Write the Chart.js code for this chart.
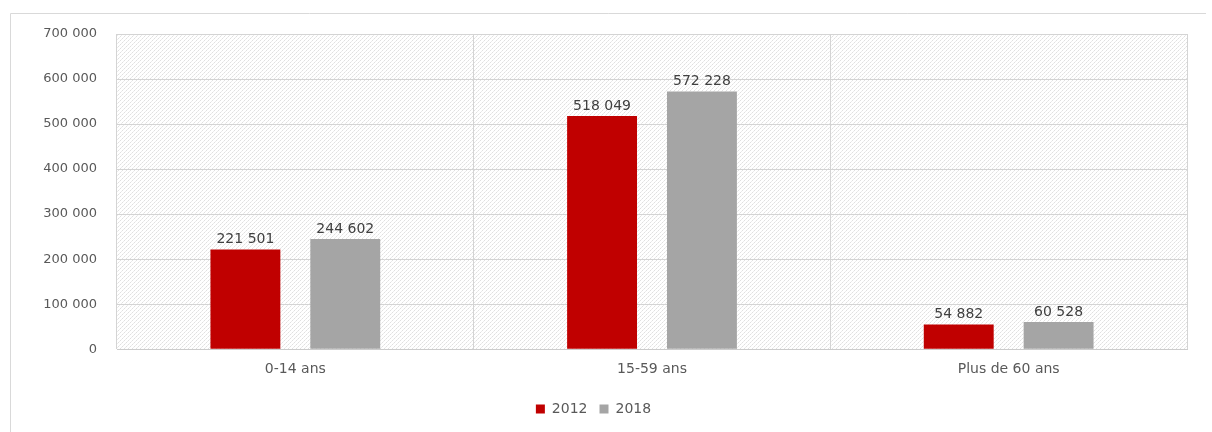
<!DOCTYPE html>
<html>
<head>
<meta charset="utf-8">
<script src="https://cdn.jsdelivr.net/npm/chart.js@4/dist/chart.umd.min.js"></script>
<style>
  html, body { margin: 0; padding: 0; background: #fff; }
  #wrap { position: absolute; left: 0; top: 0; width: 1212px; height: 432px; }
</style>
</head>
<body>
<div id="wrap"><canvas id="ageChart" width="1212" height="432"></canvas></div>
<script>
const categories = ["0-14 ans", "15-59 ans", "Plus de 60 ans"];
const values2012 = [221501, 518049, 54882];
const values2018 = [244602, 572228, 60528];
const seriesLabels = ["2012", "2018"];

// nombres avec espace comme séparateur de milliers
function fmt(n) {
  return String(Math.round(n)).replace(/\B(?=(\d{3})+(?!\d))/g, " ");
}

// fond hachuré de la zone de tracé
function makePattern() {
  const c = document.createElement("canvas");
  c.width = 4; c.height = 4;
  const g = c.getContext("2d");
  g.fillStyle = "#ffffff";
  g.fillRect(0, 0, 4, 4);
  g.fillStyle = "#e0e0e0";
  g.fillRect(0, 0, 1, 1);
  g.fillRect(2, 2, 1, 1);
  g.fillStyle = "#ececec";
  g.fillRect(1, 3, 1, 1);
  g.fillRect(3, 1, 1, 1);
  return g.createPattern(c, "repeat");
}

const bgPlugin = {
  id: "bg",
  beforeDraw(chart) {
    const { ctx, chartArea: a } = chart;
    ctx.save();
    ctx.fillStyle = makePattern();
    ctx.fillRect(a.left, a.top, a.right - a.left, a.bottom - a.top);
    // cadre extérieur
    ctx.strokeStyle = "#d9d9d9";
    ctx.lineWidth = 1;
    ctx.beginPath();
    ctx.moveTo(10.5, 432);
    ctx.lineTo(10.5, 13.5);
    ctx.lineTo(1206, 13.5);
    ctx.stroke();
    ctx.restore();
  }
};

const labelPlugin = {
  id: "barLabels",
  afterDatasetsDraw(chart) {
    const { ctx } = chart;
    ctx.save();
    ctx.font = "14px 'DejaVu Sans'";
    ctx.fillStyle = "#404040";
    ctx.textAlign = "center";
    ctx.textBaseline = "bottom";
    chart.data.datasets.forEach((ds, i) => {
      chart.getDatasetMeta(i).data.forEach((bar, j) => {
        ctx.fillText(fmt(ds.data[j]), bar.x, bar.y - 3);
      });
    });
    ctx.restore();
  }
};

const ctx = document.getElementById("ageChart").getContext("2d");
new Chart(ctx, {
  type: "bar",
  data: {
    labels: categories,
    datasets: [
      { label: seriesLabels[0], data: values2012, backgroundColor: "#c00000" },
      { label: seriesLabels[1], data: values2018, backgroundColor: "#a5a5a5" }
    ]
  },
  options: {
    responsive: false,
    animation: false,
    devicePixelRatio: 1,
    layout: { padding: { left: 0, right: 25, top: 34, bottom: 6 } },
    datasets: { bar: { barPercentage: 0.7, categoryPercentage: 0.56 } },
    scales: {
      x: {
        grid: { color: "#d4d4d4", drawTicks: false },
        border: { color: "#cccccc" },
        ticks: { color: "#595959", font: { family: "DejaVu Sans", size: 14 }, padding: 12 }
      },
      y: {
        min: 0, max: 700000,
        afterFit(s) { s.width = 117; },
        grid: { color: "#d4d4d4", drawTicks: false },
        border: { display: false },
        ticks: {
          stepSize: 100000,
          color: "#595959",
          padding: 20,
          font: { family: "DejaVu Sans", size: 13 },
          callback: v => fmt(v)
        }
      }
    },
    plugins: {
      legend: {
        position: "bottom",
        labels: {
          boxWidth: 9, boxHeight: 9,
          color: "#595959",
          font: { family: "DejaVu Sans", size: 14 },
          padding: 12
        }
      },
      tooltip: { enabled: false }
    }
  },
  plugins: [bgPlugin, labelPlugin]
});
</script>
</body>
</html>
